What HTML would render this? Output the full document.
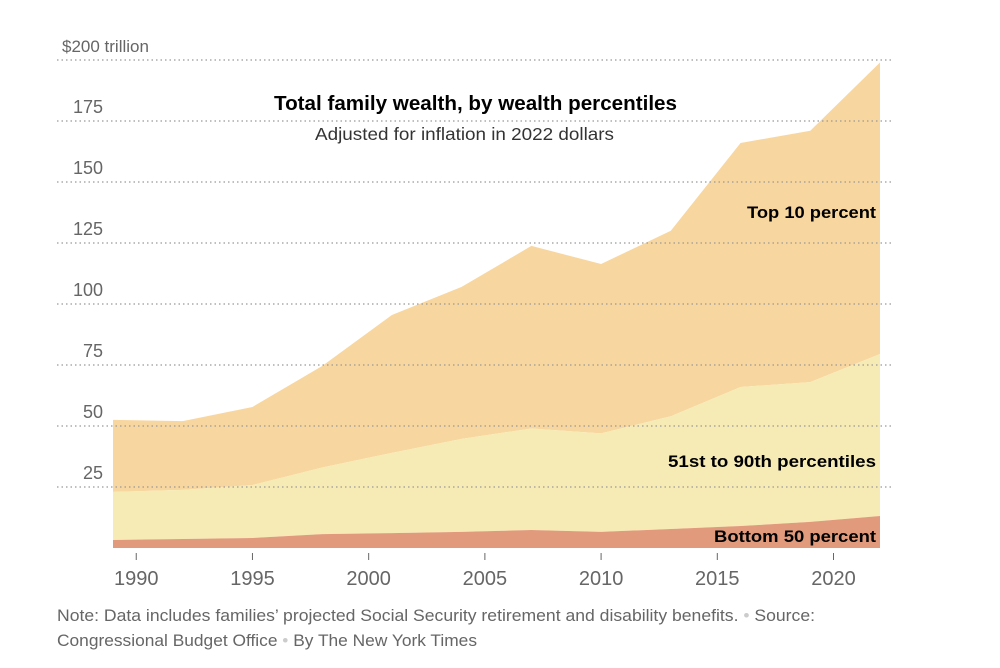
<!DOCTYPE html>
<html><head><meta charset="utf-8"><style>
body{margin:0;background:#fff;width:1000px;height:668px;overflow:hidden;font-family:"Liberation Sans",sans-serif}
svg{display:block}
</style></head><body>
<svg width="1000" height="668">
<g id="areas"></g>
<g id="grid"></g>
<g id="xaxis"></g>
<text x="274" y="110" font-size="20" font-weight="bold" fill="#000" textLength="403" lengthAdjust="spacingAndGlyphs">Total family wealth, by wealth percentiles</text>
<text x="315" y="140" font-size="17.5" fill="#333" textLength="299" lengthAdjust="spacingAndGlyphs">Adjusted for inflation in 2022 dollars</text>
<text x="747" y="218" font-size="17" font-weight="bold" fill="#000" textLength="129" lengthAdjust="spacingAndGlyphs">Top 10 percent</text>
<text x="668" y="467" font-size="17" font-weight="bold" fill="#000" textLength="208" lengthAdjust="spacingAndGlyphs">51st to 90th percentiles</text>
<text x="714" y="542" font-size="17" font-weight="bold" fill="#000" textLength="162" lengthAdjust="spacingAndGlyphs">Bottom 50 percent</text>
<text x="57" y="621" font-size="16.5" fill="#666" textLength="758" lengthAdjust="spacingAndGlyphs">Note: Data includes families’ projected Social Security retirement and disability benefits. <tspan fill="#ccc">•</tspan> Source:</text>
<text x="57" y="646" font-size="16.5" fill="#666" textLength="420" lengthAdjust="spacingAndGlyphs">Congressional Budget Office <tspan fill="#ccc">•</tspan> By The New York Times</text>
</svg>
<script>
const years=[1989,1992,1995,1998,2001,2004,2007,2010,2013,2016,2019,2022];
const bottom50=[3.3,3.7,4.1,5.7,6.1,6.6,7.4,6.6,7.8,9,10.7,13.1];
const bottom90=[23,23.8,25.8,33,39,44.7,49,47,54,66,68,79.5];
const total=[52.5,52,57.8,74.6,95.5,107,123.8,116.4,130,166,171,199];
const yTicks=[25,50,75,100,125,150,175,200];
const yTickLabels=["25","50","75","100","125","150","175","$200 trillion"];
const xTicks=[1990,1995,2000,2005,2010,2015,2020];
const NS="http://www.w3.org/2000/svg";
const x=v=>113+(v-1989)*(880-113)/33;
const y=v=>548-v*2.44;
function mk(t,a,p){const e=document.createElementNS(NS,t);for(const k in a)e.setAttribute(k,a[k]);p.appendChild(e);return e;}
function band(lo,hi){let d="M"+x(years[0])+","+y(hi[0]);for(let i=1;i<years.length;i++)d+="L"+x(years[i])+","+y(hi[i]);for(let i=years.length-1;i>=0;i--)d+="L"+x(years[i])+","+y(lo?lo[i]:0);return d+"Z";}
const A=document.getElementById('areas');
let p=mk('path',{d:band(bottom90,total),fill:'#f8d69f'},A);


p=mk('path',{d:band(bottom50,bottom90),fill:'#f7ebb5'},A);


p=mk('path',{d:band(null,bottom50),fill:'#e19b7c'},A);


const G=document.getElementById('grid');
yTicks.forEach((t,i)=>{
 let l=mk('line',{x1:57,x2:893,y1:y(t),y2:y(t),stroke:'#999','stroke-dasharray':'1.5,3','stroke-width':1.2},G);
 
 
 const last=i==yTicks.length-1;
 let tx=mk('text',{x:last?62:103,y:y(t)-8,'text-anchor':last?'start':'end','font-size':last?17:18,fill:'#666'},G);
 tx.textContent=yTickLabels[i];
 
 
});
const X=document.getElementById('xaxis');
xTicks.forEach(t=>{
 let l=mk('line',{x1:x(t),x2:x(t),y1:553,y2:560,stroke:'#666','stroke-width':1},X);
 
 
 let tx=mk('text',{x:x(t),y:585,'text-anchor':'middle','font-size':20,fill:'#666'},X);
 tx.textContent=t;
 
 
});
</script>
</body></html>
